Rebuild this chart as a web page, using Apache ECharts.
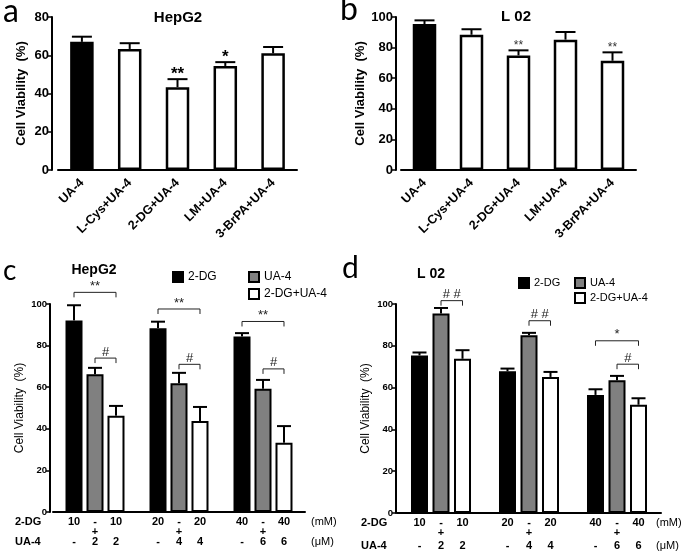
<!DOCTYPE html>
<html><head><meta charset="utf-8">
<script src="https://cdn.jsdelivr.net/npm/echarts@6/dist/echarts.min.js"></script>
<style>html,body{margin:0;padding:0;background:#fff}#c{width:686px;height:557px}</style>
</head><body><div id="c"></div>
<script>
// ---------- data ----------
const treatCats = ['UA-4', 'L-Cys+UA-4', '2-DG+UA-4', 'LM+UA-4', '3-BrPA+UA-4'];
const hepA = [67.0, 63.3, 43.3, 54.4, 61.0];
const hepAErr = [2.7, 3.0, 4.2, 2.0, 3.3];
const hepASig = ['', '', '**', '*', ''];
const l02B = [95.4, 88.4, 74.9, 85.2, 71.4];
const l02BErr = [2.4, 3.6, 3.3, 5.0, 5.5];
const l02BSig = ['', '', '**', '', '**'];

const doseGroups = ['10', '20', '40'];
const hepC_DG = [92.1, 88.4, 84.4];
const hepC_DGErr = [7.3, 3.1, 1.6];
const hepC_UA = [66.2, 61.9, 59.3];
const hepC_UAErr = [3.1, 5.0, 4.2];
const hepC_Mix = [46.3, 43.7, 33.3];
const hepC_MixErr = [4.7, 6.8, 8.0];

const l02D_DG = [75.4, 67.8, 56.5];
const l02D_DGErr = [1.4, 1.3, 2.7];
const l02D_UA = [95.5, 85.0, 63.5];
const l02D_UAErr = [2.6, 1.2, 2.1];
const l02D_Mix = [73.8, 65.1, 51.8];
const l02D_MixErr = [4.1, 2.4, 3.1];

// brackets: [group, fromBar, toBar, value, text]
const bracketsC = [[0,0,2,105.6,'**'],[0,1,2,74,'#'],[1,0,2,97.6,'**'],[1,1,2,71,'#'],[2,0,2,91.6,'**'],[2,1,2,68.8,'#']];
const bracketsD = [[0,1,2,101.6,'# #'],[1,1,2,92,'# #'],[2,0,2,82.4,'*'],[2,1,2,71.2,'#']];

const dgRow = [['10','-','10'],['20','-','20'],['40','-','40']];
const plusRow = ['', '+', ''];
const uaRow = [['-','2','2'],['-','4','4'],['-','6','6']];

const yMaxAB = [80, 100];

// ---------- helpers ----------
const FF = 'Liberation Sans, Arial, sans-serif';
const BW_CD = 17;
const GAP_C = 0.235, GAP_D = 0.265;
const SP_C = BW_CD * (1 + GAP_C);
const SP_D = BW_CD * (1 + GAP_D);

function errSeries(xi, yi, vals, errs, dx, cap, sigs, sig) {
  return {
    type: 'custom', xAxisIndex: xi, yAxisIndex: yi, z: 5, clip: false, silent: true,
    data: vals.map((v, i) => [i, v, v + errs[i]]),
    renderItem(params, api) {
      const i = api.value(0);
      const a = api.coord([i, api.value(1)]);
      const b = api.coord([i, api.value(2)]);
      const x = a[0] + dx;
      const ch = [
        {type: 'line', shape: {x1: x, y1: a[1], x2: x, y2: b[1]}, style: {stroke: '#000', lineWidth: 2}},
        {type: 'line', shape: {x1: x - cap, y1: b[1], x2: x + cap, y2: b[1]}, style: {stroke: '#000', lineWidth: 2}}
      ];
      const s = sigs && sigs[params.dataIndex];
      if (s) ch.push({type: 'text', style: {text: s, x: x, y: b[1] - sig.dy, align: 'center', verticalAlign: 'middle', font: sig.font, fill: sig.color}});
      return {type: 'group', children: ch};
    }
  };
}

function bracketSeries(xi, yi, brs, sp, font) {
  return {
    type: 'custom', xAxisIndex: xi, yAxisIndex: yi, z: 6, clip: false, silent: true,
    data: brs.map(b => [b[0], b[3]]),
    renderItem(params, api) {
      const b = brs[params.dataIndex];
      const p = api.coord([b[0], b[3]]);
      const x1 = p[0] + (b[1] - 1) * sp, x2 = p[0] + (b[2] - 1) * sp, y = p[1];
      return {type: 'group', children: [
        {type: 'polyline', shape: {points: [[x1, y + 5], [x1, y], [x2, y], [x2, y + 5]]}, style: {stroke: '#222', lineWidth: 1, fill: null}},
        {type: 'text', style: {text: b[4], x: (x1 + x2) / 2, y: y - 6, align: 'center', verticalAlign: 'middle', font: font, fill: '#222'}}
      ]};
    }
  };
}

function rowLabelSeries(xi, yi, sp, rowDy) {
  return {
    type: 'custom', xAxisIndex: xi, yAxisIndex: yi, z: 6, clip: false, silent: true,
    data: doseGroups.map((g, i) => [i, 0]),
    renderItem(params, api) {
      const i = params.dataIndex;
      const p = api.coord([i, 0]);
      const ch = [];
      for (let k = 0; k < 3; k++) {
        const x = p[0] + (k - 1) * sp;
        const st = (t, dy) => ({type: 'text', style: {text: t, x: x, y: p[1] + dy, align: 'center', verticalAlign: 'middle', font: 'bold 11px ' + FF, fill: '#000'}});
        ch.push(st(dgRow[i][k], rowDy[0]));
        if (plusRow[k]) ch.push(st(plusRow[k], rowDy[1]));
        ch.push(st(uaRow[i][k], rowDy[2]));
      }
      return {type: 'group', children: ch};
    }
  };
}

function catAxis(gi, data, labels) {
  return {
    gridIndex: gi, type: 'category', data: data,
    axisLine: {lineStyle: {color: '#000', width: 2}},
    axisTick: {alignWithLabel: true, length: labels ? 5 : 4, lineStyle: {color: '#000', width: 1.5}},
    axisLabel: labels ? {rotate: 45, interval: 0, color: '#000', fontWeight: 'bold', fontSize: 12.5, fontFamily: FF, margin: 11} : {show: false}
  };
}
function valAxis(gi, max, offset, name, nameGap, nameStyle, labelSize) {
  return {
    gridIndex: gi, type: 'value', min: 0, max: max, interval: 20, offset: offset,
    name: name, nameLocation: 'middle', nameGap: nameGap, nameRotate: 90,
    nameTextStyle: nameStyle,
    axisLine: {show: true, lineStyle: {color: '#000', width: 2}},
    axisTick: {show: true, length: 4, lineStyle: {color: '#000', width: 1.5}},
    splitLine: {show: false},
    axisLabel: {color: '#000', fontWeight: 'bold', fontSize: labelSize, fontFamily: FF, margin: 3}
  };
}

const blackStyle = {color: '#000', borderColor: '#000', borderWidth: 2};
const whiteStyle = {color: '#fff', borderColor: '#000', borderWidth: 2.5};
const grayStyle = {color: '#808080', borderColor: '#000', borderWidth: 2};
const whiteCD = {color: '#fff', borderColor: '#000', borderWidth: 2};

function barData(vals, firstBlack) {
  return vals.map((v, i) => ({value: v, itemStyle: (i === 0 && firstBlack) ? blackStyle : whiteStyle}));
}

const chart = echarts.init(document.getElementById('c'), null, {renderer: 'canvas'});
const option = {
  animation: false,
  backgroundColor: '#fff',
  textStyle: {fontFamily: FF},
  grid: [
    {left: 58, top: 17, width: 239, height: 153},
    {left: 401, top: 17, width: 235, height: 153},
    {left: 53, top: 304, width: 252, height: 208},
    {left: 397, top: 304, width: 264, height: 209}
  ],
  xAxis: [catAxis(0, treatCats, true), catAxis(1, treatCats, true), catAxis(2, doseGroups, false), catAxis(3, doseGroups, false)],
  yAxis: [
    valAxis(0, yMaxAB[0], 6, 'Cell Viability  (%)', 24, {color: '#000', fontWeight: 'bold', fontSize: 13, fontFamily: FF}, 13),
    valAxis(1, yMaxAB[1], 5, 'Cell Viability  (%)', 26, {color: '#000', fontWeight: 'bold', fontSize: 13, fontFamily: FF}, 13),
    valAxis(2, 100, 3, 'Cell Viability  (%)', 24, {color: '#000', fontSize: 12, fontFamily: FF}, 9.5),
    valAxis(3, 100, 1, 'Cell Viability  (%)', 24, {color: '#000', fontSize: 12, fontFamily: FF}, 9.5)
  ],
  legend: [
    {data: ['2-DG'], left: 172, top: 271, padding: 0, itemWidth: 10, itemHeight: 10, icon: 'rect', itemGap: 5, textStyle: {fontSize: 12, fontFamily: FF, color: '#000'}},
    {data: ['UA-4', '2-DG+UA-4'], orient: 'vertical', left: 248, top: 271, padding: 0, itemWidth: 10, itemHeight: 10, icon: 'rect', itemGap: 5, textStyle: {fontSize: 12, fontFamily: FF, color: '#000'}},
    {data: ['2-DG'], left: 518, top: 277, padding: 0, itemWidth: 10, itemHeight: 10, icon: 'rect', itemGap: 3, textStyle: {fontSize: 11, fontFamily: FF, color: '#000'}},
    {data: ['UA-4', '2-DG+UA-4'], orient: 'vertical', left: 574, top: 277, padding: 0, itemWidth: 10, itemHeight: 10, icon: 'rect', itemGap: 3, textStyle: {fontSize: 11, fontFamily: FF, color: '#000'}}
  ],
  series: [
    {type: 'bar', name: 'HepG2', xAxisIndex: 0, yAxisIndex: 0, barWidth: 23.5, data: barData(hepA, true)},
    {type: 'bar', name: 'L 02', xAxisIndex: 1, yAxisIndex: 1, barWidth: 23.5, data: barData(l02B, true)},
    errSeries(0, 0, hepA, hepAErr, 0, 10, hepASig, {dy: 5, font: 'bold 17px ' + FF, color: '#000'}),
    errSeries(1, 1, l02B, l02BErr, 0, 10, l02BSig, {dy: 4.5, font: '12px ' + FF, color: '#333'}),

    {type: 'bar', name: '2-DG', xAxisIndex: 2, yAxisIndex: 2, barWidth: BW_CD, barGap: (GAP_C * 100) + '%', itemStyle: blackStyle, data: hepC_DG},
    {type: 'bar', name: 'UA-4', xAxisIndex: 2, yAxisIndex: 2, barWidth: BW_CD, barGap: (GAP_C * 100) + '%', itemStyle: grayStyle, data: hepC_UA},
    {type: 'bar', name: '2-DG+UA-4', xAxisIndex: 2, yAxisIndex: 2, barWidth: BW_CD, barGap: (GAP_C * 100) + '%', itemStyle: whiteCD, data: hepC_Mix},
    errSeries(2, 2, hepC_DG, hepC_DGErr, -SP_C, 7, null, null),
    errSeries(2, 2, hepC_UA, hepC_UAErr, 0, 7, null, null),
    errSeries(2, 2, hepC_Mix, hepC_MixErr, SP_C, 7, null, null),
    bracketSeries(2, 2, bracketsC, SP_C, '13px ' + FF),
    rowLabelSeries(2, 2, SP_C, [10, 20, 30]),

    {type: 'bar', name: '2-DG', xAxisIndex: 3, yAxisIndex: 3, barWidth: BW_CD, barGap: (GAP_D * 100) + '%', itemStyle: blackStyle, data: l02D_DG},
    {type: 'bar', name: 'UA-4', xAxisIndex: 3, yAxisIndex: 3, barWidth: BW_CD, barGap: (GAP_D * 100) + '%', itemStyle: grayStyle, data: l02D_UA},
    {type: 'bar', name: '2-DG+UA-4', xAxisIndex: 3, yAxisIndex: 3, barWidth: BW_CD, barGap: (GAP_D * 100) + '%', itemStyle: whiteCD, data: l02D_Mix},
    errSeries(3, 3, l02D_DG, l02D_DGErr, -SP_D, 7, null, null),
    errSeries(3, 3, l02D_UA, l02D_UAErr, 0, 7, null, null),
    errSeries(3, 3, l02D_Mix, l02D_MixErr, SP_D, 7, null, null),
    bracketSeries(3, 3, bracketsD, SP_D, '13px ' + FF),
    rowLabelSeries(3, 3, SP_D, [10, 20, 33])
  ],
  graphic: [
    {type: 'text', x: 3, y: 12, style: {text: 'a', font: '32px Lato, sans-serif', fill: '#000', verticalAlign: 'middle'}},
    {type: 'text', x: 340, y: 10, style: {text: 'b', font: '32px Lato, sans-serif', fill: '#000', verticalAlign: 'middle'}},
    {type: 'text', x: 3, y: 271, style: {text: 'c', font: '28px Lato, sans-serif', fill: '#000', verticalAlign: 'middle'}},
    {type: 'text', x: 342, y: 268, style: {text: 'd', font: '30px Lato, sans-serif', fill: '#000', verticalAlign: 'middle'}},
    {type: 'text', x: 178, y: 18, style: {text: 'HepG2', font: 'bold 15px ' + FF, fill: '#000', align: 'center', verticalAlign: 'middle'}},
    {type: 'text', x: 516, y: 17, style: {text: 'L 02', font: 'bold 15px ' + FF, fill: '#000', align: 'center', verticalAlign: 'middle'}},
    {type: 'text', x: 94, y: 270, style: {text: 'HepG2', font: 'bold 14px ' + FF, fill: '#000', align: 'center', verticalAlign: 'middle'}},
    {type: 'text', x: 431, y: 274, style: {text: 'L 02', font: 'bold 14px ' + FF, fill: '#000', align: 'center', verticalAlign: 'middle'}},
    {type: 'text', x: 15, y: 522, style: {text: '2-DG', font: 'bold 11px ' + FF, fill: '#000', verticalAlign: 'middle'}},
    {type: 'text', x: 15, y: 542, style: {text: 'UA-4', font: 'bold 11px ' + FF, fill: '#000', verticalAlign: 'middle'}},
    {type: 'text', x: 311, y: 522, style: {text: '(mM)', font: '11px ' + FF, fill: '#000', verticalAlign: 'middle'}},
    {type: 'text', x: 311, y: 542, style: {text: '(\u03bcM)', font: '11px ' + FF, fill: '#000', verticalAlign: 'middle'}},
    {type: 'text', x: 361, y: 523, style: {text: '2-DG', font: 'bold 11px ' + FF, fill: '#000', verticalAlign: 'middle'}},
    {type: 'text', x: 361, y: 546, style: {text: 'UA-4', font: 'bold 11px ' + FF, fill: '#000', verticalAlign: 'middle'}},
    {type: 'text', x: 656, y: 523, style: {text: '(mM)', font: '11px ' + FF, fill: '#000', verticalAlign: 'middle'}},
    {type: 'text', x: 656, y: 546, style: {text: '(\u03bcM)', font: '11px ' + FF, fill: '#000', verticalAlign: 'middle'}}
  ]
};
chart.setOption(option);
</script>
</body></html>
